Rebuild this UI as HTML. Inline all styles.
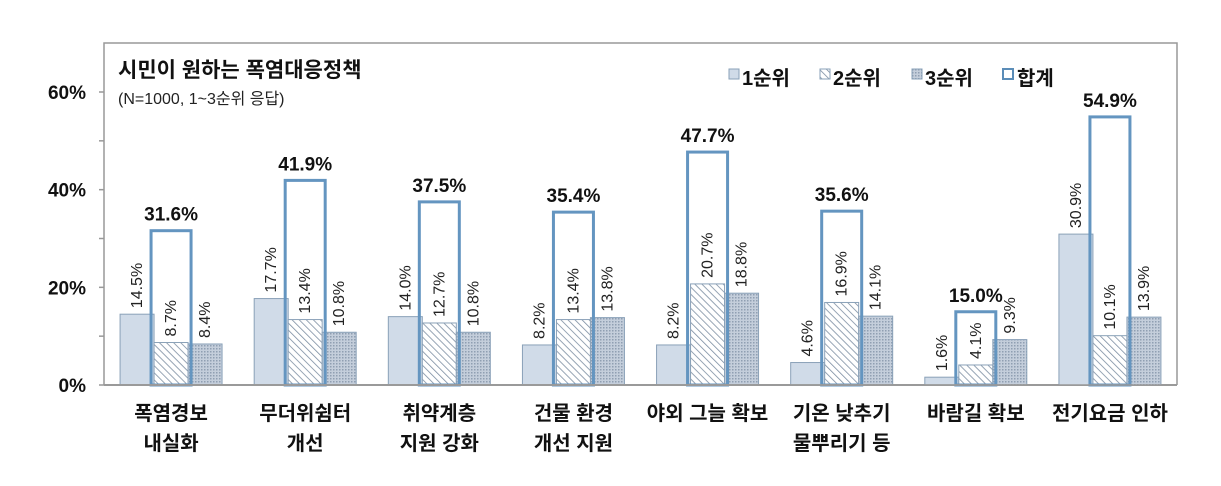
<!DOCTYPE html>
<html><head><meta charset="utf-8">
<style>
html,body{margin:0;padding:0;background:#fff;}
svg{display:block;font-family:"Liberation Sans","Noto Sans CJK KR",sans-serif;}
</style></head>
<body>
<svg id="chart" width="1221" height="486" viewBox="0 0 1221 486" xmlns="http://www.w3.org/2000/svg">
<defs>
<pattern id="hatch" patternUnits="userSpaceOnUse" width="5" height="5" patternTransform="rotate(-45)">
<rect width="5" height="5" fill="#fff"/><line x1="0" y1="0" x2="0" y2="5" stroke="#7c8ea2" stroke-width="1.6"/>
</pattern>
<pattern id="dots" patternUnits="userSpaceOnUse" width="3" height="3">
<rect width="3" height="3" fill="#c4cedb"/><rect width="1.5" height="1.5" fill="#8f9fb2"/>
</pattern>
</defs>
<g id="frame"></g>
<g id="marks"></g>
<text x="118" y="77" font-size="21" font-weight="bold" fill="#111">시민이 원하는 폭염대응정책</text>
<text x="118" y="104" font-size="16" fill="#222">(N=1000, 1~3순위 응답)</text>
<g font-size="20" font-weight="bold" fill="#111">
<g><rect x="729" y="69" width="10" height="10" fill="#d0dbe8" stroke="#8aa1b8"/><text x="742" y="85">1순위</text></g>
<g><rect x="820" y="69" width="10" height="10" fill="url(#hatch)" stroke="#8aa1b8"/><text x="833" y="85">2순위</text></g>
<g><rect x="912" y="69" width="10" height="10" fill="url(#dots)" stroke="#8aa1b8"/><text x="925" y="85">3순위</text></g>
<g><rect x="1003" y="69" width="10" height="10" fill="#fff" stroke="#5b8db8" stroke-width="2"/><text x="1017" y="85">합계</text></g>
</g>
</svg>
<script>
const categories=[["폭염경보","내실화"],["무더위쉼터","개선"],["취약계층","지원 강화"],["건물 환경","개선 지원"],["야외 그늘 확보"],["기온 낮추기","물뿌리기 등"],["바람길 확보"],["전기요금 인하"]];
const rank1=[14.5,17.7,14.0,8.2,8.2,4.6,1.6,30.9];
const rank2=[8.7,13.4,12.7,13.4,20.7,16.9,4.1,10.1];
const rank3=[8.4,10.8,10.8,13.8,18.8,14.1,9.3,13.9];
const totals=[31.6,41.9,37.5,35.4,47.7,35.6,15.0,54.9];
const yTicks=[0,20,40,60];

const NS="http://www.w3.org/2000/svg";
const L=104,R=1177,T=43,B=385;
const y=v=>B-v*(B-92)/60;
const groupW=(R-L)/categories.length;
const cx=i=>L+groupW*(i+0.5);
function mk(tag,attrs,parent){const e=document.createElementNS(NS,tag);for(const k in attrs)e.setAttribute(k,attrs[k]);parent.appendChild(e);return e;}
const frame=document.getElementById('frame'),marks=document.getElementById('marks');
mk('path',{d:`M${L},${B} L${L},${T} L${R},${T} L${R},${B}`,fill:'none',stroke:'#999','stroke-width':1.5},frame);
for(let v=0;v<=60;v+=10){mk('line',{x1:L-5,x2:L,y1:y(v),y2:y(v),stroke:'#999','stroke-width':1.5},frame);}
yTicks.forEach(v=>{const t=mk('text',{x:L-18,y:y(v)+7,'text-anchor':'end','font-size':19,'font-weight':'bold',fill:'#111'},frame);t.textContent=v+'%';

});
const bw=34;
const fills=['#d0dbe8','url(#hatch)','url(#dots)'];
const series=[rank1,rank2,rank3];
categories.forEach((c,i)=>{
  const g=mk('g',{},marks);
  
  
  series.forEach((s,k)=>{
    const x0=cx(i)-1.5*bw+k*bw;
    const r=mk('rect',{x:x0,y:y(s[i]),width:bw,height:B-y(s[i]),fill:fills[k],stroke:'#8aa1b8','stroke-width':1},g);
    
    
  });
  const tw=40;
  const tr=mk('rect',{x:cx(i)-tw/2,y:y(totals[i]),width:tw,height:B-y(totals[i]),fill:'none',stroke:'#6495c0','stroke-width':3},g);
  
  
  mk('line',{x1:L,x2:R,y1:B,y2:B,stroke:'#999','stroke-width':1.5},g);
  series.forEach((s,k)=>{
    const xc=cx(i)-bw+k*bw+5;
    const yy=y(s[i])-6;
    const t=mk('text',{x:xc,y:yy,transform:`rotate(-90 ${xc} ${yy})`,'font-size':16,fill:'#222'},g);
    t.textContent=s[i].toFixed(1)+'%';
    
    
  });
  const tl=mk('text',{x:cx(i),y:y(totals[i])-10,'text-anchor':'middle','font-size':19,'font-weight':'bold',fill:'#111'},g);
  tl.textContent=totals[i].toFixed(1)+'%';
  
  
  c.forEach((line,j)=>{
    const t=mk('text',{x:cx(i),y:420+j*30,'text-anchor':'middle','font-size':20,'font-weight':'bold',fill:'#111'},g);
    t.textContent=line;
    
    
  });
});
</script>
</body></html>
